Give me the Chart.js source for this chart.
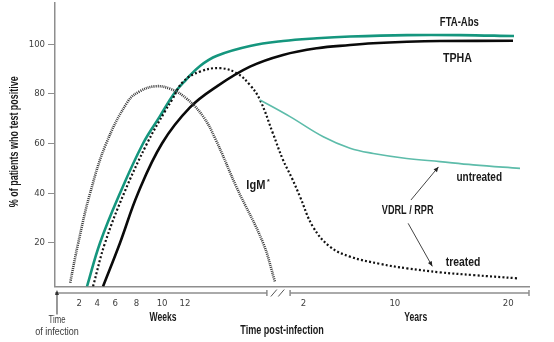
<!DOCTYPE html>
<html><head><meta charset="utf-8">
<script src="https://cdn.jsdelivr.net/npm/chart.js@4/dist/chart.umd.min.js"></script>
<style>html,body{margin:0;padding:0;background:#fff}</style>
</head><body>
<canvas id="c" width="554" height="342"></canvas>
<script>
// x values are timeline positions (0 = infection, 100 = right end of the time axis;
// weeks on the left of the break, years on the right)
const xTickPos = [5.1, 8.9, 12.7, 17.2, 22.6, 27.4, 52.4, 71.7, 95.6];
const xTickLabels = ['2', '4', '6', '8', '10', '12', '2', '10', '20'];
const yTicks = [20, 40, 60, 80, 100];
const breakFrom = 44.7, breakTo = 49.6;

const ftaX = [6.75, 9.49, 13.71, 18.57, 22.15, 25.1, 27.64, 30.59, 34.18, 41.14, 48.1, 55.27, 62.24, 74.26, 85.44, 96.84];
const ftaY = [2.5, 20, 40, 60, 71, 80, 85.6, 91.2, 95.3, 99.2, 101.2, 102.3, 103, 103.6, 103.6, 103.2];

const tphaX = [10.13, 13.71, 17.51, 22.57, 28.48, 34.18, 41.14, 48.1, 55.27, 62.24, 67.09, 74.26, 81.22, 96.62];
const tphaY = [2.5, 20, 40, 60, 74.5, 83, 90.9, 95.6, 98.3, 99.6, 100.3, 100.9, 101.2, 101.3];

const igmX = [3.2, 4.9, 7.4, 10.8, 15.4, 17.9, 21.1, 24.3, 27.8, 31.2, 33.8, 38.4, 43.9, 46.4];
const igmY = [4, 20, 40, 60, 77, 81, 83, 82, 78, 71, 62, 42, 20, 4.5];

const treatedX = [8.02, 10.55, 14.56, 19.41, 23.21, 24.68, 27.0, 30.59, 34.81, 38.4, 41.14, 43.25, 45.99, 48.1, 50.0, 51.69, 54.43, 58.02, 62.24, 68.57, 74.26, 81.22, 88.19, 97.47];
const treatedY = [2.5, 20, 40, 60, 73, 77.5, 84.8, 88.9, 90.3, 88.2, 83.5, 77.5, 64, 53.4, 46, 38.6, 26.5, 18.5, 14.5, 11.6, 9.8, 8.2, 7.1, 5.8];

const untreatedX = [43.25, 49.58, 56.6, 62.24, 67.15, 74.2, 81.22, 88.25, 98.1];
const untreatedY = [77.5, 70.8, 62.7, 58.1, 56, 54, 52.7, 51.4, 50.0];

const pts = (xs, ys) => xs.map((v, i) => ({x: v, y: ys[i]}));

const TICKFONT = "'DejaVu Sans Condensed','Liberation Sans',sans-serif";
const LABFONT = "'Liberation Sans',Arial,sans-serif";
const TEAL = '#15967e', TEAL_LIGHT = '#5dbcaa', AXIS = '#8e8e8e', TXT = '#1a1a1a';

// annotation texts (in data coordinates) with their width in the original artwork
const curveLabels = [
  {t: 'FTA-Abs', x: 85.3, y: 108.6, w: 39},
  {t: 'TPHA', x: 84.9, y: 94.0, w: 29},
  {t: 'VDRL / RPR', x: 74.4, y: 32.9, w: 51.7},
  {t: 'untreated', x: 89.5, y: 46.5, w: 45.7},
  {t: 'treated', x: 86.1, y: 12.0, w: 34.7}
];
const arrows = [
  {x1: 75.1, y1: 37.3, x2: 80.9, y2: 50.6},
  {x1: 74.5, y1: 27.9, x2: 79.6, y2: 10.6}
];

function fitText(ctx, text, x, y, width, font, rot) {
  ctx.save();
  ctx.font = font;
  const nat = ctx.measureText(text).width;
  ctx.translate(x, y);
  if (rot) ctx.rotate(rot);
  ctx.scale(width / nat, 1);
  ctx.fillText(text, 0, 0);
  ctx.restore();
}

function arrowHead(ctx, x1, y1, x2, y2, size, w) {
  const a = Math.atan2(y2 - y1, x2 - x1);
  ctx.beginPath();
  ctx.moveTo(x2, y2);
  ctx.lineTo(x2 - size * Math.cos(a) + w * Math.sin(a), y2 - size * Math.sin(a) - w * Math.cos(a));
  ctx.lineTo(x2 - size * Math.cos(a) - w * Math.sin(a), y2 - size * Math.sin(a) + w * Math.cos(a));
  ctx.closePath();
  ctx.fill();
}

const annot = {
  id: 'annot',
  afterDraw(chart) {
    const {ctx, chartArea: ca, scales: {x, y}} = chart;
    ctx.save();
    // secondary time axis with break
    const ty = ca.bottom + 6.5;
    const b1 = x.getPixelForValue(breakFrom), b2 = x.getPixelForValue(breakTo);
    ctx.strokeStyle = AXIS; ctx.lineWidth = 1.5;
    ctx.beginPath();
    ctx.moveTo(ca.left, ty); ctx.lineTo(b1, ty);
    ctx.moveTo(b2, ty); ctx.lineTo(ca.right, ty);
    [b1, b2, ca.right].forEach(px => { ctx.moveTo(px, ty - 3); ctx.lineTo(px, ty + 3); });
    ctx.stroke();
    ctx.lineWidth = 1;
    ctx.strokeStyle = '#555';
    ctx.beginPath();
    const gap = (b2 - b1);
    [0.3, 0.62].forEach(f => {
      const cx = b1 + gap * f;
      ctx.moveTo(cx - 3, ty + 3.5); ctx.lineTo(cx + 3, ty - 3.5);
    });
    ctx.stroke();

    // time of infection arrow
    const ax = x.getPixelForValue(0.42);
    ctx.strokeStyle = '#333'; ctx.fillStyle = '#333'; ctx.lineWidth = 1;
    ctx.beginPath(); ctx.moveTo(ax, ca.bottom + 28); ctx.lineTo(ax, ca.bottom + 6); ctx.stroke();
    arrowHead(ctx, ax, ca.bottom + 28, ax, ca.bottom + 3.5, 5, 2);

    ctx.textAlign = 'center'; ctx.textBaseline = 'middle';
    ctx.fillStyle = '#3a3a3a';
    fitText(ctx, 'Time', ax, ca.bottom + 33.5, 17, '11px ' + LABFONT);
    fitText(ctx, 'of infection', ax, ca.bottom + 45.5, 43.5, '11px ' + LABFONT);

    ctx.fillStyle = TXT;
    const B12 = 'bold 12px ' + LABFONT;
    fitText(ctx, 'Weeks', x.getPixelForValue(22.8), ca.bottom + 31, 27, B12);
    fitText(ctx, 'Years', x.getPixelForValue(76.1), ca.bottom + 31, 23, B12);
    fitText(ctx, 'Time post-infection', x.getPixelForValue(47.9), ca.bottom + 44.5, 83.5, B12);
    // y-axis title
    fitText(ctx, '% of patients who test positive', 15, (ca.top + ca.bottom) / 2 - 3, 131, B12, -Math.PI / 2);

    // curve labels
    const B13 = 'bold 12.5px ' + LABFONT;
    curveLabels.forEach(l => fitText(ctx, l.t, x.getPixelForValue(l.x), y.getPixelForValue(l.y), l.w, B13));
    // IgM with superscript asterisk
    const ix = x.getPixelForValue(42.8), iy = y.getPixelForValue(42.9);
    fitText(ctx, 'IgM', ix - 2, iy, 19, B13);
    ctx.font = 'bold 7px ' + LABFONT;
    ctx.fillText('*', ix + 10.5, iy - 3.5);

    // arrows
    ctx.strokeStyle = '#444'; ctx.fillStyle = '#222'; ctx.lineWidth = 1;
    arrows.forEach(a => {
      const x1 = x.getPixelForValue(a.x1), y1 = y.getPixelForValue(a.y1);
      const x2 = x.getPixelForValue(a.x2), y2 = y.getPixelForValue(a.y2);
      ctx.beginPath(); ctx.moveTo(x1, y1); ctx.lineTo(x2, y2); ctx.stroke();
      arrowHead(ctx, x1, y1, x2, y2, 5, 2.2);
    });
    ctx.restore();
  }
};

new Chart(document.getElementById('c'), {
  type: 'line',
  data: {
    datasets: [
      {label: 'IgM*', data: pts(igmX, igmY), borderColor: '#3a3a3a', borderWidth: 2.6, borderDash: [1, 1]},
      {label: 'VDRL / RPR untreated', data: pts(untreatedX, untreatedY), borderColor: TEAL_LIGHT, borderWidth: 1.6},
      {label: 'VDRL / RPR treated', data: pts(treatedX, treatedY), borderColor: '#111', borderWidth: 2.2, borderDash: [2, 2.2]},
      {label: 'TPHA', data: pts(tphaX, tphaY), borderColor: '#0a0a0a', borderWidth: 2.6},
      {label: 'FTA-Abs', data: pts(ftaX, ftaY), borderColor: TEAL, borderWidth: 2.6}
    ]
  },
  options: {
    responsive: false,
    animation: false,
    devicePixelRatio: 1,
    layout: {padding: {top: 3, right: 25, left: 0, bottom: 0}},
    elements: {point: {radius: 0}, line: {tension: 0.4, fill: false}},
    plugins: {legend: {display: false}, tooltip: {enabled: false}},
    scales: {
      x: {
        type: 'linear', min: 0, max: 100,
        grid: {display: false, drawTicks: false},
        border: {display: true, color: AXIS, width: 1.5},
        afterBuildTicks: s => { s.ticks = xTickPos.map(v => ({value: v})); },
        afterFit: s => { s.height = 55.5; s.paddingLeft = 0; s.paddingRight = 0; },
        ticks: {
          autoSkip: false, maxRotation: 0, padding: 11.5,
          color: '#404040', font: {family: TICKFONT, size: 9.5},
          callback: (v, i) => xTickLabels[i]
        }
      },
      y: {
        min: 2.5, max: 116.5,
        grid: {display: true, drawOnChartArea: false, drawTicks: true, tickLength: 7, color: AXIS, lineWidth: 1},
        border: {display: true, color: AXIS, width: 1.5},
        afterBuildTicks: s => { s.ticks = yTicks.map(v => ({value: v})); },
        afterFit: s => { s.width = 55; s.paddingTop = 0; s.paddingBottom = 0; },
        ticks: {padding: 3, color: '#404040', font: {family: TICKFONT, size: 9.5}}
      }
    }
  },
  plugins: [annot]
});
</script>
</body></html>
